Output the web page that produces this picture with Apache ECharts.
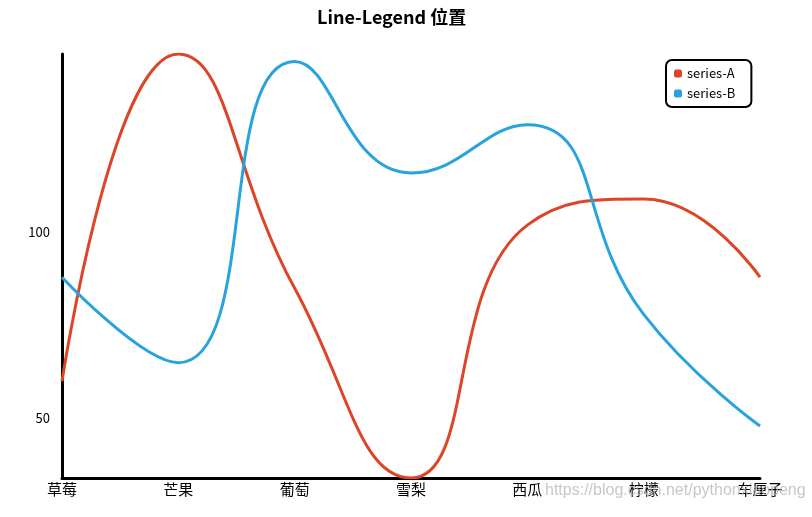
<!DOCTYPE html>
<html>
<head>
<meta charset="utf-8">
<script src="https://cdn.jsdelivr.net/npm/echarts@6/dist/echarts.min.js"></script>
<style>
html,body{margin:0;padding:0;background:#fff;}
#main{width:812px;height:517px;}
</style>
</head>
<body>
<div id="main"></div>
<script>
const categories = ['草莓', '芒果', '葡萄', '雪梨', '西瓜', '柠檬', '车厘子'];
const seriesA = [60, 148, 85, 34, 102, 109, 88];
const seriesB = [88, 65, 146, 116, 129, 78, 48];
const seriesNames = ['series-A', 'series-B'];
const yTicks = [50, 100];
const titleText = 'Line-Legend 位置';
const watermark = 'https://blog.csdn.net/pythonxiaopeng';

const font = '"Noto Sans CJK SC", "Noto Sans", sans-serif';
const chart = echarts.init(document.getElementById('main'));
chart.setOption({
  backgroundColor: '#fff',
  animation: false,
  title: {
    text: titleText,
    left: 312,
    top: 3,
    textStyle: { fontFamily: font, fontSize: 18, fontWeight: 'bold', color: '#000' }
  },
  legend: {
    data: seriesNames,
    orient: 'vertical',
    left: 666,
    top: 60,
    icon: 'roundRect',
    itemWidth: 8,
    itemHeight: 8,
    itemGap: 7,
    padding: [7, 16, 7, 8],
    borderColor: '#000',
    borderWidth: 2,
    borderRadius: 6,
    textStyle: { fontFamily: font, fontSize: 13, color: '#000' }
  },
  grid: { left: 62, right: 52, top: 54, bottom: 39, containLabel: false },
  xAxis: {
    type: 'category',
    data: categories,
    boundaryGap: false,
    axisLine: { lineStyle: { color: '#000', width: 3 } },
    axisTick: { show: false },
    axisLabel: { color: '#000', fontFamily: font, fontSize: 15, margin: 4 }
  },
  yAxis: {
    type: 'value',
    min: Math.min(...seriesA, ...seriesB),
    max: Math.max(...seriesA, ...seriesB),
    splitNumber: 2,
    splitLine: { show: false },
    axisLine: { show: true, lineStyle: { color: '#000', width: 3 } },
    axisTick: { show: false },
    axisLabel: {
      color: '#000', fontFamily: font, fontSize: 13, margin: 12,
      showMinLabel: false, showMaxLabel: false,
      formatter: v => (yTicks.indexOf(v) >= 0 ? String(v) : '')
    }
  },
  color: ['#dd4528', '#28a3dd'],
  series: [
    { name: seriesNames[0], type: 'line', data: seriesA, smooth: 0.5, showSymbol: false, lineStyle: { width: 3 } },
    { name: seriesNames[1], type: 'line', data: seriesB, smooth: 0.5, showSymbol: false, lineStyle: { width: 3 } }
  ],
  graphic: [{
    type: 'text',
    left: 545,
    top: 483,
    z: 100,
    style: { text: watermark, fill: 'rgba(180,180,180,0.75)', font: '16px "Liberation Sans", Arial, sans-serif' }
  }]
});
</script>
</body>
</html>
